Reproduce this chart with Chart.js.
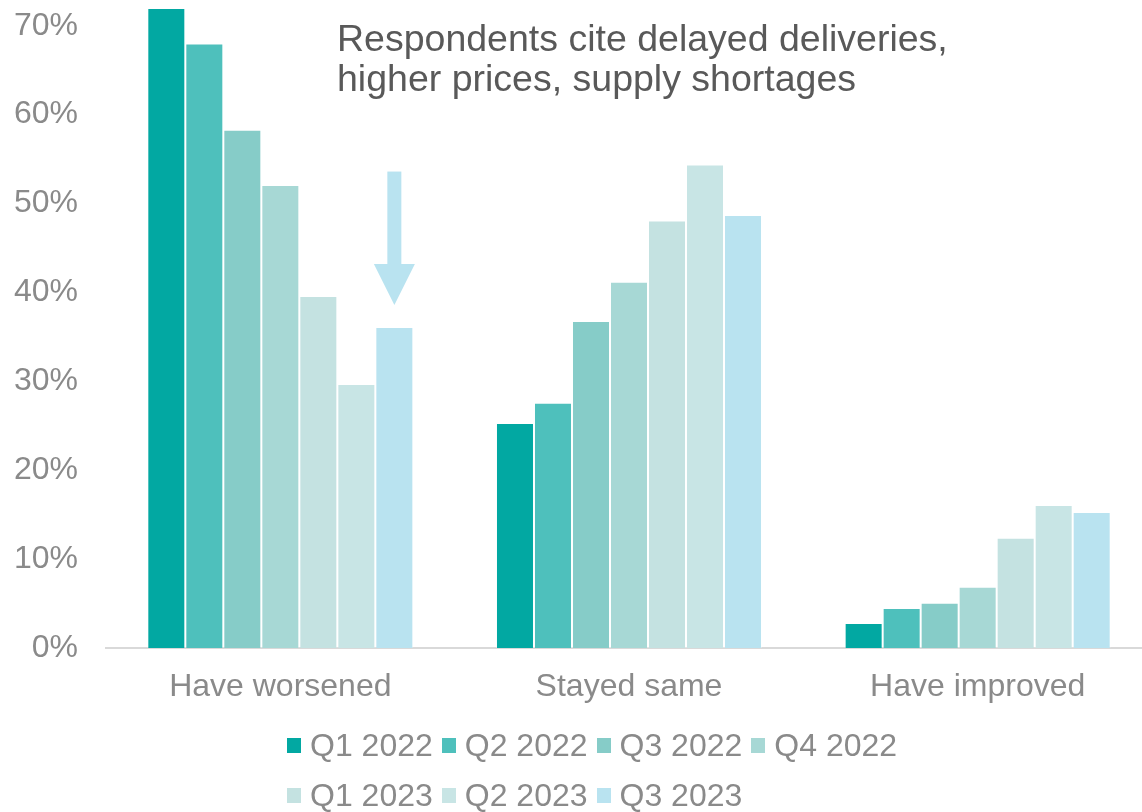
<!DOCTYPE html>
<html>
<head>
<meta charset="utf-8">
<script src="https://cdn.jsdelivr.net/npm/chart.js@4"></script>
<style>
html, body { margin: 0; padding: 0; background: #fff; overflow: hidden; }
#quadro { position: relative; width: 1142px; height: 812px; overflow: hidden; }
#legenda { position: absolute; left: 287px; top: 720px; width: 660px; display: flex; flex-wrap: wrap;
  font-family: 'Liberation Sans', Arial, sans-serif; font-size: 32px; color: #8a8a8a; line-height: 50px; }
.item { display: flex; align-items: center; margin-right: 9px; }
.caixa { width: 14px; height: 15px; margin-right: 9px; }
</style>
</head>
<body>
<div id="quadro">
  <canvas id="grafico_barras" width="1152" height="812"></canvas>
  <div id="legenda"></div>
</div>
<script>
var categorias = ['Have worsened', 'Stayed same', 'Have improved']
var trimestres = ['Q1 2022', 'Q2 2022', 'Q3 2022', 'Q4 2022', 'Q1 2023', 'Q2 2023', 'Q3 2023']
var cores = ['#02a8a2', '#4ec0bc', '#86ccc8', '#a7d8d5', '#c4e2e1', '#c8e5e5', '#b9e3f0']

// % de respondentes por trimestre: piorou, igual, melhorou
var q1_2022 = [72.0, 25.3, 2.8]
var q2_2022 = [68.0, 27.6, 4.5]
var q3_2022 = [58.3, 36.8, 5.1]
var q4_2022 = [52.1, 41.2, 6.9]
var q1_2023 = [39.6, 48.1, 12.4]
var q2_2023 = [29.7, 54.4, 16.1]
var q3_2023 = [36.1, 48.7, 15.3]
var series = [q1_2022, q2_2022, q3_2022, q4_2022, q1_2023, q2_2023, q3_2023]

var marcas_eixo_y = [0, 10, 20, 30, 40, 50, 60, 70]
var titulo = ['Respondents cite delayed deliveries,', 'higher prices, supply shortages']

// seta sobre a última barra de "Have worsened" (valores no eixo y)
var seta = { topo: 53.6, base_ponta: 43.2, ponta: 38.6 }

var fonte = "'Liberation Sans', Arial, sans-serif"
var cinza = '#8a8a8a'

var plugin_anotacao = {
    id: 'anotacao',
    afterDatasetsDraw: function (chart) {
        let ctx = chart.ctx
        let y = chart.scales.y
        let barra = chart.getDatasetMeta(6).data[0]
        let cx = barra.x
        ctx.save()
        ctx.fillStyle = cores[6]
        let y_topo = y.getPixelForValue(seta.topo)
        let y_base = y.getPixelForValue(seta.base_ponta)
        let y_ponta = y.getPixelForValue(seta.ponta)
        ctx.fillRect(cx - 7, y_topo, 14, y_base - y_topo)
        ctx.beginPath()
        ctx.moveTo(cx - 20.5, y_base)
        ctx.lineTo(cx + 20.5, y_base)
        ctx.lineTo(cx, y_ponta)
        ctx.closePath()
        ctx.fill()

        ctx.fillStyle = '#595959'
        ctx.font = '37.5px ' + fonte
        ctx.textBaseline = 'alphabetic'
        ctx.textAlign = 'left'
        ctx.fillText(titulo[0], 337, 51)
        ctx.fillText(titulo[1], 337, 91)
        ctx.restore()
    }
}

var conjuntos = []
for (let n = 0; n < series.length; n++) {
    conjuntos.push({
        label: trimestres[n],
        data: series[n],
        backgroundColor: cores[n],
        borderColor: 'rgba(255,255,255,0.3)',
        borderWidth: 1,
        barPercentage: 1,
        categoryPercentage: 0.763
    })
}

var contexto = document.getElementById('grafico_barras').getContext('2d')
var meu_grafico = new Chart(contexto, {
    type: 'bar',
    data: { labels: categorias, datasets: conjuntos },
    options: {
        responsive: false,
        devicePixelRatio: 1,
        animation: false,
        layout: { padding: { top: 8, right: 0, bottom: 0, left: 0 } },
        plugins: { legend: { display: false }, tooltip: { enabled: false } },
        scales: {
            x: {
                grid: { display: false, drawTicks: false },
                border: { display: true, color: '#d9d9d9', width: 2 },
                ticks: { color: cinza, font: { family: fonte, size: 32 }, padding: 20 },
                afterFit: function (escala) {
                    escala.height = 164
                    escala.paddingLeft = 0
                    escala.paddingRight = 0
                }
            },
            y: {
                min: 0,
                max: 72,
                grid: { display: false, drawTicks: false },
                border: { display: false },
                afterBuildTicks: function (escala) {
                    escala.ticks = marcas_eixo_y.map(function (v) { return { value: v } })
                },
                ticks: {
                    color: cinza,
                    font: { family: fonte, size: 32 },
                    padding: 28,
                    callback: function (valor) { return valor + '%' }
                },
                afterFit: function (escala) {
                    escala.width = 106
                    escala.paddingTop = 0
                    escala.paddingBottom = 0
                }
            }
        }
    },
    plugins: [plugin_anotacao]
})

// legenda em HTML para quebrar em duas linhas
var legenda = document.getElementById('legenda')
for (let n = 0; n < trimestres.length; n++) {
    let item = document.createElement('div')
    item.className = 'item'
    let caixa = document.createElement('span')
    caixa.className = 'caixa'
    caixa.style.background = cores[n]
    let texto = document.createElement('span')
    texto.textContent = trimestres[n]
    item.appendChild(caixa)
    item.appendChild(texto)
    legenda.appendChild(item)
}
</script>
</body>
</html>
